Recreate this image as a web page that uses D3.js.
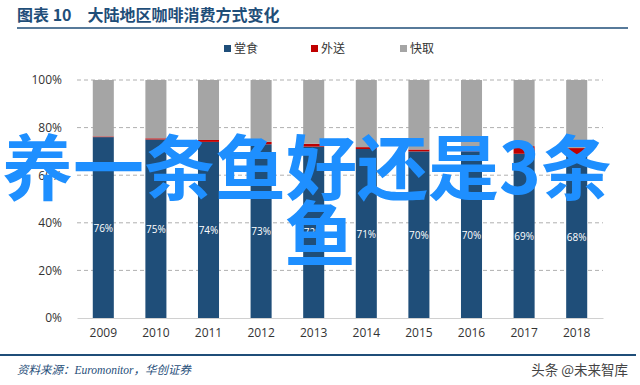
<!DOCTYPE html>
<html>
<head>
<meta charset="utf-8">
<script src="https://cdn.jsdelivr.net/npm/d3@7"></script>
<style>
  body { margin: 0; background: #fff; }
  svg { display: block; }
</style>
</head>
<body>
<svg id="chart"></svg>
<script>
const years = ['2009', '2010', '2011', '2012', '2013', '2014', '2015', '2016', '2017', '2018'];
const dineIn = [76, 75, 74, 73, 72, 71, 70, 70, 69, 68];      // 堂食
const delivery = [0.3, 0.5, 0.8, 1.0, 1.2, 0.8, 0.8, 1.6, 3.2, 3.4]; // 外送
const takeAway = years.map((y, i) => 100 - dineIn[i] - delivery[i]); // 快取 = 剩余
const seriesNames = ['堂食', '外送', '快取'];
const yTicks = [0, 20, 40, 60, 80, 100];

const width = 640, height = 385;
const margin = { top: 80, left: 77, right: 37, bottom: 67 };
const innerH = height - margin.top - margin.bottom; // 238

const svg = d3.select('#chart').attr('width', width).attr('height', height);

const color = d3.scaleOrdinal().domain(seriesNames).range(['#1f4e79', '#c00000', '#a5a5a5']);

const x = d3.scaleBand().domain(years).range([margin.left, width - margin.right]).paddingInner(0.6).paddingOuter(0.3);
const y = d3.scaleLinear().domain([0, 100]).range([margin.top + innerH, margin.top]);

// 标题
svg.append('text')
  .attr('x', 17).attr('y', 21)
  .style('font-family', '"Noto Sans CJK SC"').style('font-size', '16px').style('font-weight', 'bold')
  .style('fill', '#1f4e79')
  .text('图表 10　大陆地区咖啡消费方式变化');
svg.append('line').attr('x1', 17).attr('x2', 628).attr('y1', 28).attr('y2', 28)
  .attr('stroke', '#1f4e79').attr('stroke-width', 1.5);

// 网格线
svg.append('g').selectAll('line').data(yTicks.filter(d => d > 0)).join('line')
  .attr('x1', margin.left).attr('x2', width - margin.right)
  .attr('y1', d => y(d)).attr('y2', d => y(d))
  .attr('stroke', '#b0b0b0').attr('stroke-dasharray', '4,3').attr('stroke-width', 1);

// y 轴
const yAxis = svg.append('g').attr('transform', `translate(${margin.left - 12},0)`)
  .call(d3.axisLeft(y).tickValues(yTicks).tickFormat(d => d + '%').tickSize(0));
yAxis.select('.domain').remove();
yAxis.selectAll('text').style('font-family', '"Open Sans", sans-serif').style('font-size', '12px').style('fill', '#333');

// 堆叠
const table = years.map((yr, i) => ({ year: yr, '堂食': dineIn[i], '外送': delivery[i], '快取': takeAway[i] }));
const stack = d3.stack().keys(seriesNames)(table);

svg.append('g').selectAll('g').data(stack).join('g')
  .attr('fill', d => color(d.key))
  .selectAll('rect').data(d => d).join('rect')
  .attr('x', d => x(d.data.year))
  .attr('width', x.bandwidth())
  .attr('y', d => y(d[1]))
  .attr('height', d => y(d[0]) - y(d[1]));

// 数据标签
svg.append('g').selectAll('text').data(table).join('text')
  .attr('x', d => x(d.year) + x.bandwidth() / 2)
  .attr('y', d => y(d['堂食'] / 2) + 4)
  .attr('text-anchor', 'middle')
  .style('font-family', '"Open Sans", sans-serif').style('font-size', '10px').style('fill', '#fff')
  .text(d => d['堂食'] + '%');

// x 轴
const xAxis = svg.append('g').attr('transform', `translate(0,${margin.top + innerH})`)
  .call(d3.axisBottom(x).tickSize(0).tickPadding(10));
xAxis.select('.domain').attr('stroke', '#d0d0d0');
xAxis.selectAll('text').style('font-family', '"Open Sans", sans-serif').style('font-size', '12px').style('fill', '#333');

// 图例
const legendX = [224, 311, 400];
const legend = svg.append('g').selectAll('g').data(seriesNames).join('g')
  .attr('transform', (d, i) => `translate(${legendX[i]},45)`);
legend.append('rect').attr('width', 7).attr('height', 7).attr('fill', d => color(d));
legend.append('text').attr('x', 10).attr('y', 8)
  .style('font-family', '"Noto Sans CJK SC"').style('font-size', '12px').style('fill', '#333')
  .text(d => d);

// 底线与来源
svg.append('line').attr('x1', 0).attr('x2', 636).attr('y1', 355).attr('y2', 355)
  .attr('stroke', '#1f4e79').attr('stroke-width', 2);
svg.append('text').attr('x', 17).attr('y', 374)
  .style('font-family', '"Liberation Serif", "Noto Sans CJK SC"').style('font-style', 'italic')
  .style('font-size', '11.5px').style('fill', '#1f4e79')
  .text('资料来源：Euromonitor，华创证券');
svg.append('text').attr('x', 628).attr('y', 375).attr('text-anchor', 'end')
  .style('font-family', '"Noto Sans CJK SC"').style('font-size', '13.5px').style('fill', '#444')
  .text('头条 @未来智库');

// 叠加大字
const overlay = svg.append('g')
  .style('font-family', '"Noto Sans CJK SC"').style('font-weight', 'bold')
  .style('font-size', '71px').style('fill', '#1e8fff').attr('text-anchor', 'middle');
overlay.append('text').attr('x', 307).attr('y', 194).text('养一条鱼好还是3条');
overlay.append('text').attr('x', 320).attr('y', 260).text('鱼');
</script>
</body>
</html>
